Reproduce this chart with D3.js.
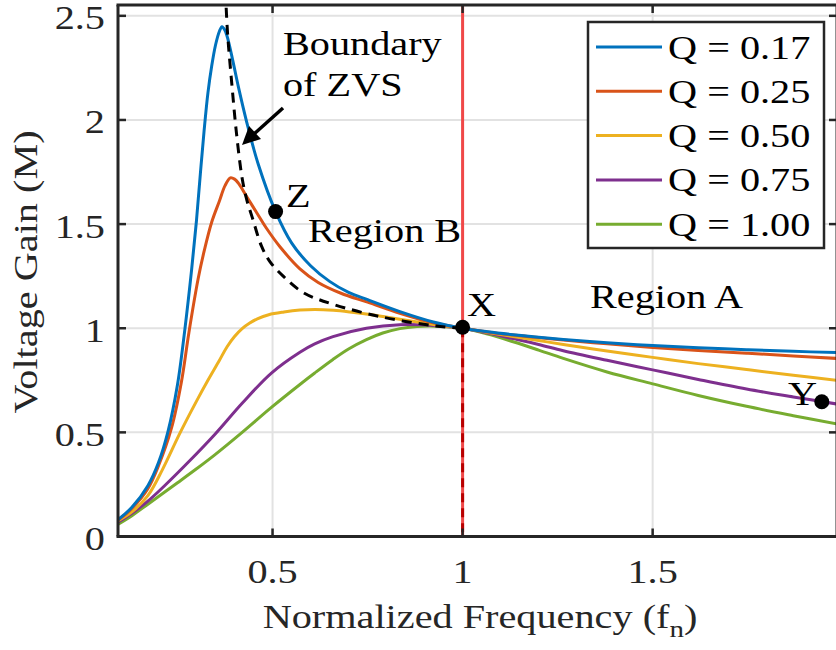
<!DOCTYPE html>
<html>
<head>
<meta charset="utf-8">
<script src="https://cdn.jsdelivr.net/npm/d3@7/dist/d3.min.js"></script>
<style>
html,body{margin:0;padding:0;background:#fff;}
svg{display:block;}
text{font-family:"Liberation Serif","DejaVu Serif",serif;}
</style>
</head>
<body>
<svg id="chart" width="836" height="650"></svg>
<script>
// ---------- data ----------
const xTicks = [0.5, 1, 1.5];
const xTickLabels = ["0.5", "1", "1.5"];
const yTicks = [0, 0.5, 1, 1.5, 2, 2.5];
const yTickLabels = ["0", "0.5", "1", "1.5", "2", "2.5"];

const seriesNames = ["Q = 0.17", "Q = 0.25", "Q = 0.50", "Q = 0.75", "Q = 1.00"];
const seriesColors = ["#0072BD", "#D95319", "#EDB120", "#7E2F8E", "#77AC30"];

const q017_fn = [0.093,0.13,0.172,0.2,0.225,0.25,0.269,0.287,0.300,0.31,0.32,0.33,0.34,0.35,0.36,0.367,0.375,0.383,0.396,0.41,0.432,0.462,0.508,0.55,0.6,0.65,0.7,0.75,0.835,0.923,1.0,1.066,1.133,1.2,1.265,1.38,1.5,1.62,1.747,1.87,1.985];
const q017_M  = [0.08,0.14,0.244,0.355,0.505,0.73,0.99,1.28,1.52,1.74,1.95,2.13,2.26,2.36,2.425,2.448,2.43,2.385,2.28,2.16,1.99,1.79,1.56,1.41,1.30,1.225,1.172,1.137,1.08,1.03,1.0,0.983,0.969,0.957,0.946,0.93,0.917,0.906,0.897,0.889,0.883];

const q025_fn = [0.093,0.13,0.172,0.2,0.234,0.26,0.28,0.304,0.32,0.34,0.36,0.375,0.389,0.40,0.41,0.436,0.46,0.484,0.52,0.572,0.62,0.68,0.75,0.835,0.923,1.0,1.066,1.133,1.2,1.265,1.38,1.5,1.62,1.747,1.87,1.985];
const q025_M  = [0.078,0.135,0.23,0.34,0.52,0.74,0.98,1.235,1.37,1.51,1.61,1.685,1.722,1.716,1.697,1.62,1.55,1.48,1.39,1.285,1.22,1.168,1.125,1.072,1.026,1.0,0.982,0.967,0.955,0.943,0.925,0.908,0.893,0.88,0.867,0.855];

const q050_fn = [0.093,0.13,0.172,0.21,0.256,0.30,0.33,0.36,0.38,0.40,0.42,0.44,0.46,0.49,0.53,0.572,0.612,0.66,0.703,0.77,0.835,0.94,1.0,1.066,1.133,1.2,1.265,1.38,1.5,1.62,1.747,1.87,1.985];
const q050_M  = [0.075,0.118,0.196,0.32,0.495,0.65,0.75,0.845,0.91,0.96,0.998,1.025,1.045,1.065,1.078,1.087,1.09,1.086,1.078,1.062,1.043,1.014,1.0,0.98,0.96,0.941,0.922,0.891,0.86,0.83,0.802,0.774,0.75];

const q075_fn = [0.093,0.13,0.172,0.2166,0.28,0.348,0.42,0.497,0.572,0.611,0.659,0.747,0.835,0.94,1.0,1.066,1.133,1.2,1.265,1.38,1.5,1.62,1.747,1.87,1.985];
const q075_M  = [0.068,0.112,0.17,0.245,0.36,0.49,0.64,0.785,0.885,0.925,0.96,1.0,1.017,1.011,1.0,0.977,0.95,0.922,0.892,0.846,0.8,0.754,0.708,0.67,0.636];

const q100_fn = [0.093,0.13,0.172,0.21,0.25,0.3,0.348,0.42,0.497,0.572,0.611,0.659,0.70,0.747,0.79,0.835,0.88,0.922,1.0,1.066,1.133,1.2,1.265,1.38,1.5,1.62,1.747,1.87,1.985];
const q100_M  = [0.058,0.1,0.155,0.205,0.258,0.325,0.392,0.5,0.62,0.73,0.785,0.85,0.9,0.945,0.977,0.998,1.008,1.01,1.0,0.972,0.935,0.895,0.855,0.79,0.733,0.677,0.625,0.58,0.54];

const zvs_fn = [0.376,0.3816,0.393,0.405,0.42,0.432,0.447,0.471,0.493,0.528,0.581,0.659,0.79,0.93,1.0];
const zvs_M  = [2.62,2.417,2.17,1.938,1.72,1.618,1.53,1.394,1.32,1.25,1.171,1.115,1.053,1.011,1.0];

const markers = [
  {name:"Z", fn:0.508, M:1.56},
  {name:"X", fn:1.0, M:1.005},
  {name:"Y", fn:1.945, M:0.647}
];

// ---------- layout ----------
const svg = d3.select("#chart");
const L = 118, R = 837, T = 5, B = 536.5;
const x = d3.scaleLinear().domain([0.0934, 1.985]).range([L, R]);
const y = d3.scaleLinear().domain([0, 2.552]).range([B, T]);
const ink = "#262626";
const FS = 33, SX = 1.22;

function label(parent, px, py, str, anchor, color, rot) {
  const t = parent.append("text")
    .attr("transform", `translate(${px},${py})` + (rot ? ` rotate(${rot})` : "") + ` scale(${SX},1)`)
    .attr("text-anchor", anchor || "start").attr("font-size", FS)
    .attr("fill", color || ink);
  if (str !== null) t.text(str);
  return t;
}

svg.append("defs").append("clipPath").attr("id","plotclip")
  .append("rect").attr("x",L).attr("y",T).attr("width",R-L).attr("height",B-T);

// grid
const grid = svg.append("g");
grid.selectAll(".gx").data(xTicks).join("line")
  .attr("x1",d=>x(d)).attr("x2",d=>x(d)).attr("y1",T).attr("y2",B)
  .attr("stroke","#e2e2e2").attr("stroke-width",2);
grid.selectAll(".gy").data(yTicks).join("line")
  .attr("x1",L).attr("x2",R).attr("y1",d=>y(d)).attr("y2",d=>y(d))
  .attr("stroke","#e2e2e2").attr("stroke-width",2);

const plot = svg.append("g").attr("clip-path","url(#plotclip)");

// red vertical line at fn = 1
plot.append("line").attr("x1",x(1)).attr("x2",x(1)).attr("y1",T).attr("y2",B)
  .attr("stroke","#F04848").attr("stroke-width",3);
plot.append("line").attr("x1",x(1)).attr("x2",x(1)).attr("y1",y(1)).attr("y2",B)
  .attr("stroke","#B80000").attr("stroke-width",3).attr("stroke-dasharray","9,6");

// curves
const allSeries = [
  [q017_fn,q017_M],[q025_fn,q025_M],[q050_fn,q050_M],[q075_fn,q075_M],[q100_fn,q100_M]
];
const line = d3.line().x(d=>x(d[0])).y(d=>y(d[1])).curve(d3.curveCatmullRom.alpha(0.5));
[4,3,2,1,0].forEach(i=>{
  const pts = allSeries[i][0].map((f,j)=>[f, allSeries[i][1][j]]);
  plot.append("path").attr("d", line(pts)).attr("fill","none")
    .attr("stroke", seriesColors[i]).attr("stroke-width",3).attr("stroke-linejoin","round");
});

// ZVS boundary
const zvsPts = zvs_fn.map((f,j)=>[f, zvs_M[j]]);
plot.append("path").attr("d", line(zvsPts))
  .attr("fill","none").attr("stroke","#000").attr("stroke-width",3).attr("stroke-dasharray","10,7");

// markers
svg.selectAll(".mk").data(markers).join("circle")
  .attr("cx",d=>x(d.fn)).attr("cy",d=>y(d.M)).attr("r",7.5).attr("fill","#000");

// axes box
const axes = svg.append("g");
axes.append("line").attr("x1",L).attr("x2",L).attr("y1",T).attr("y2",B).attr("stroke",ink).attr("stroke-width",3);
axes.append("line").attr("x1",L-1.5).attr("x2",R).attr("y1",B).attr("y2",B).attr("stroke",ink).attr("stroke-width",3);
axes.append("line").attr("x1",L-1.5).attr("x2",R).attr("y1",T).attr("y2",T).attr("stroke",ink).attr("stroke-width",3);
axes.append("line").attr("x1",R).attr("x2",R).attr("y1",T).attr("y2",B).attr("stroke",ink).attr("stroke-width",3);

// ticks (inward, all sides)
const tl = 8;
xTicks.forEach(t=>{
  axes.append("line").attr("x1",x(t)).attr("x2",x(t)).attr("y1",B).attr("y2",B-tl).attr("stroke",ink).attr("stroke-width",2.5);
  axes.append("line").attr("x1",x(t)).attr("x2",x(t)).attr("y1",T).attr("y2",T+tl).attr("stroke",ink).attr("stroke-width",2.5);
});
yTicks.forEach(t=>{
  axes.append("line").attr("x1",L).attr("x2",L+tl).attr("y1",y(t)).attr("y2",y(t)).attr("stroke",ink).attr("stroke-width",2.5);
  axes.append("line").attr("x1",R).attr("x2",R-tl).attr("y1",y(t)).attr("y2",y(t)).attr("stroke",ink).attr("stroke-width",2.5);
});

// tick labels
xTicks.forEach((t,i)=> label(svg, x(t), 583, xTickLabels[i], "middle"));
yTicks.forEach((t,i)=> label(svg, 105, y(t)+13.5, yTickLabels[i], "end"));

// axis titles
const xt = label(svg, 480, 628, null, "middle");
xt.append("tspan").text("Normalized Frequency (f");
xt.append("tspan").attr("font-size",FS*0.72).attr("dy",9).text("n");
xt.append("tspan").attr("dy",-9).text(")");
label(svg, 37, 272, "Voltage Gain (M)", "middle", ink, -90);

// annotations
const ann = [
  {t:"Boundary", x:283, y:55},
  {t:"of ZVS", x:283, y:96},
  {t:"Z", x:286, y:207},
  {t:"Region B", x:308, y:242},
  {t:"X", x:467, y:316},
  {t:"Region A", x:590, y:308},
  {t:"Y", x:788, y:405}
];
ann.forEach(a=> label(svg, a.x, a.y, a.t, "start", "#000"));

// arrow
svg.append("line").attr("x1",283).attr("y1",108).attr("x2",254).attr("y2",134)
  .attr("stroke","#000").attr("stroke-width",3.5);
svg.append("path").attr("d","M242,145 L249,126 L261,139 Z").attr("fill","#000");

// legend
const lg = svg.append("g");
lg.append("rect").attr("x",588).attr("y",22).attr("width",236).attr("height",226)
  .attr("fill","#fff").attr("stroke",ink).attr("stroke-width",2.5);
seriesNames.forEach((n,i)=>{
  const cy = 47 + i*44.3;
  lg.append("line").attr("x1",596).attr("x2",662).attr("y1",cy).attr("y2",cy)
    .attr("stroke",seriesColors[i]).attr("stroke-width",3);
  label(lg, 668, cy+11.5, n, "start", "#000");
});
</script>
</body>
</html>
